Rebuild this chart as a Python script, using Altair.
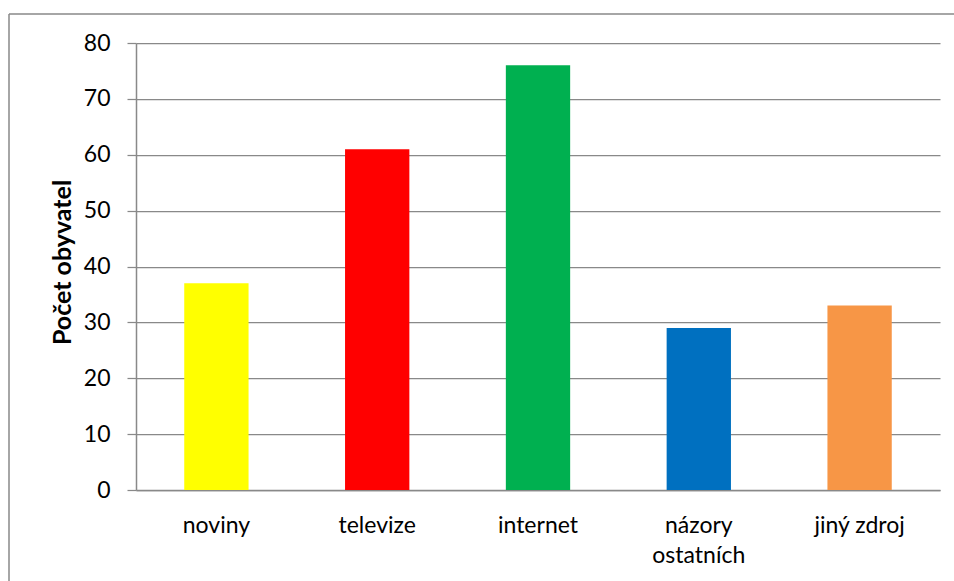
import altair as alt
import pandas as pd

categories = ["noviny", "televize", "internet", "názory ostatních", "jiný zdroj"]
values = [37, 61, 76, 29, 33]
colors = ["#FFFF00", "#FF0000", "#00B050", "#0070C0", "#F79646"]
y_ticks = [0, 10, 20, 30, 40, 50, 60, 70, 80]

df = pd.DataFrame({"kategorie": categories, "pocet": values})

FONT = "Lato"
GRID = "#898989"

bars = alt.Chart(df).mark_bar().encode(
    x=alt.X(
        "kategorie:N",
        sort=None,
        scale=alt.Scale(paddingInner=0.6, paddingOuter=0.3),
        axis=alt.Axis(
            title=None,
            labelAngle=0,
            ticks=False,
            domainColor=GRID,
            domainWidth=1.5,
            labelFont=FONT,
            labelFontSize=23,
            labelColor="#000000",
            labelPadding=24,
            labelLineHeight=30,
            labelBaseline="top",
            labelExpr="datum.value == 'názory ostatních' ? ['názory', 'ostatních'] : datum.label",
        ),
    ),
    y=alt.Y(
        "pocet:Q",
        scale=alt.Scale(domain=[0, 80], nice=False),
        axis=alt.Axis(
            title="Počet obyvatel",
            values=y_ticks,
            grid=True,
            gridColor=GRID,
            gridWidth=1.25,
            tickColor=GRID,
            tickSize=9,
            tickWidth=1.25,
            domainColor=GRID,
            domainWidth=1.5,
            labelFont=FONT,
            labelFontSize=23,
            labelColor="#000000",
            labelPadding=17,
            titleFont=FONT,
            titleFontSize=25,
            titleFontWeight="bold",
            titleColor="#000000",
            titleAngle=-90,
            titleX=-74,
            titleY=219,
            titleAlign="center",
            titleBaseline="middle",
        ),
    ),
    color=alt.Color(
        "kategorie:N",
        scale=alt.Scale(domain=categories, range=colors),
        legend=None,
    ),
)

frame = alt.Data(values=[{}])
left_border = alt.Chart(frame).mark_rule(color=GRID, strokeWidth=1.5).encode(
    x=alt.value(-127), y=alt.value(-29), y2=alt.value(600)
)
top_border = alt.Chart(frame).mark_rule(color=GRID, strokeWidth=1.5).encode(
    x=alt.value(-127), x2=alt.value(900), y=alt.value(-29)
)

chart = (
    alt.layer(bars, left_border, top_border)
    .properties(
        width=804,
        height=447,
        autosize=alt.AutoSizeParams(type="none"),
        padding={"left": 136, "top": 43, "right": 14, "bottom": 91},
        background="#FFFFFF",
    )
    .configure_view(stroke=None)
    .configure_axis(gridCap="butt")
)

chart.save("out.html", embed_options={"renderer": "svg", "actions": False})
